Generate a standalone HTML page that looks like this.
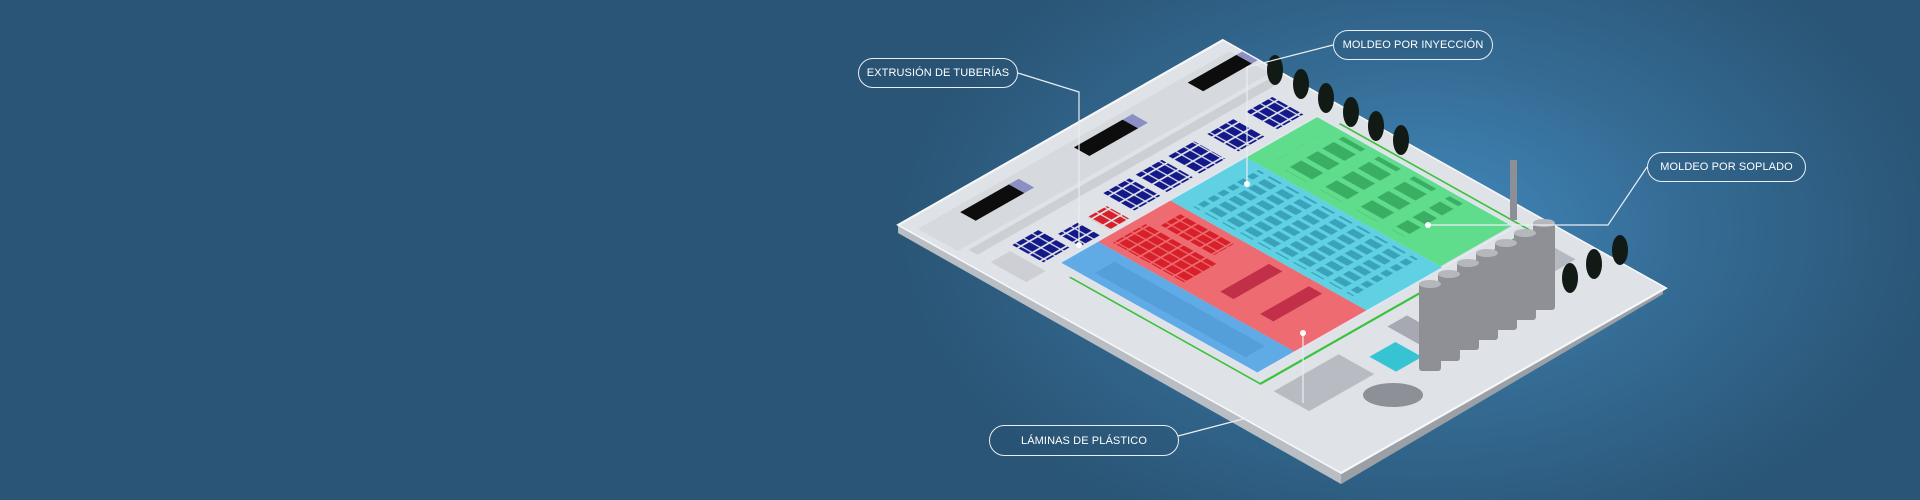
<!DOCTYPE html>
<html><head><meta charset="utf-8"><style>
html,body{margin:0;padding:0;}
body{width:1920px;height:500px;overflow:hidden;position:relative;font-family:"Liberation Sans",sans-serif;background:#2a5576;}
.bg{position:absolute;inset:0;background:radial-gradient(ellipse 520px 330px at 1420px 230px,#4289bd 0%,#356c95 50%,rgba(43,87,119,0) 100%),#2a5576;}
svg{position:absolute;left:0;top:0;}
.pill{position:absolute;border:1.3px solid #e8eef4;border-radius:16px;color:#fff;font-size:11px;display:flex;align-items:center;justify-content:center;box-sizing:border-box;background:rgba(40,80,110,0.25);letter-spacing:0.1px;}
</style></head><body>
<div class="bg"></div>
<svg width="1920" height="500" viewBox="0 0 1920 500">
<defs>
<pattern id="pb" patternUnits="userSpaceOnUse" width="2.6" height="2.6"><rect x="0.2" y="0.2" width="2.2" height="2.2" fill="#14198a"/></pattern>
<pattern id="pr" patternUnits="userSpaceOnUse" width="2.6" height="2.6"><rect x="0.2" y="0.2" width="2.2" height="2.2" fill="#d8202a"/></pattern>
<pattern id="pc" patternUnits="userSpaceOnUse" width="3" height="4"><rect x="0.4" y="0.5" width="2" height="2.8" fill="#3aa3bb"/></pattern>
<pattern id="pg" patternUnits="userSpaceOnUse" width="5" height="8"><rect x="0.6" y="1" width="3.5" height="5" fill="#3aae62"/></pattern>
</defs>
<polygon points="898,225 1341,473 1663,285 1663,294 1341,484 898,233" fill="#b9bec4"/>
<polygon points="1341,473 1663,285 1663,294 1341,484" fill="#9aa0a6"/>
<g transform="matrix(3.25,-1.85,4.43,2.48,898,225)">
 <rect x="0" y="0" width="100" height="100" fill="#dfe2e6"/>
 <rect x="0" y="0" width="100" height="100" fill="none" stroke="#f6f7f8" stroke-width="0.5"/>
 <rect x="2" y="3" width="96" height="9" fill="#d6d9dd"/>
 <rect x="4" y="13" width="92" height="2" fill="#ccd0d4"/>
 <rect x="13" y="4.5" width="15" height="3.5" fill="#0d0d0d"/>
 <rect x="28" y="4.5" width="3" height="3.5" fill="#8b8fc4"/>
 <rect x="48" y="4.5" width="15" height="3.5" fill="#0d0d0d"/>
 <rect x="63" y="4.5" width="3" height="3.5" fill="#8b8fc4"/>
 <rect x="83" y="4.5" width="15" height="3.5" fill="#0d0d0d"/>
 <rect x="98" y="4.5" width="1.8" height="3.5" fill="#8b8fc4"/>
 <rect x="12" y="17" width="8" height="7" fill="url(#pb)"/>
 <rect x="22" y="20" width="6" height="5" fill="url(#pb)"/>
 <rect x="40" y="17" width="8" height="7" fill="url(#pb)"/>
 <rect x="50" y="17" width="8" height="7" fill="url(#pb)"/>
 <rect x="60" y="17" width="8" height="7" fill="url(#pb)"/>
 <rect x="72" y="17" width="8" height="7" fill="url(#pb)"/>
 <rect x="84" y="17" width="8" height="7" fill="url(#pb)"/>
 <rect x="31" y="20" width="6" height="5" fill="url(#pr)"/>
 <rect x="4" y="18" width="6" height="8" fill="#c4c7cc" opacity="0.7"/>
 <rect x="14.5" y="26" width="11.5" height="44.5" fill="#55a6e6" opacity="0.92"/>
 <rect x="26" y="26" width="22.2" height="44.5" fill="#ee6167" opacity="0.92"/>
 <rect x="48.2" y="26" width="23.3" height="44.5" fill="#55cfe2" opacity="0.92"/>
 <rect x="71.5" y="26" width="22" height="44" fill="#55db86" opacity="0.92"/>
 <rect x="14.5" y="26" width="79" height="44.5" fill="none" stroke="#eef" stroke-width="0.3" opacity="0.7"/>
 <rect x="17" y="32" width="6" height="34" fill="#4c97d2" opacity="0.6"/>
 <rect x="28" y="28" width="10" height="16" fill="url(#pr)"/>
 <rect x="40" y="30" width="6" height="12" fill="url(#pr)"/>
 <rect x="31" y="50" width="15" height="3" fill="#c13048"/>
 <rect x="31" y="59" width="15" height="3" fill="#c13048"/>
 <rect x="50" y="30" width="20" height="36" fill="url(#pc)"/>
 <rect x="74" y="30" width="18" height="30" fill="url(#pg)"/>
 <polyline points="12,30 12,73 95,73 95,30" fill="none" stroke="#39c23c" stroke-width="0.5"/>
 <rect x="12" y="76" width="20" height="8" fill="#9ea3aa" opacity="0.6"/>
 <rect x="36" y="80" width="8" height="6" fill="#37c4d2"/>
 <rect x="47" y="76" width="6" height="10" fill="#8d929a" opacity="0.7"/>
 <rect x="80" y="76" width="14" height="8" fill="#a4a8ae" opacity="0.7"/>
</g>
<g fill="#8e9096">
 <rect x="1419" y="283" width="22" height="88" rx="3"/>
 <rect x="1438" y="273" width="22" height="88" rx="3"/>
 <rect x="1457" y="262" width="22" height="88" rx="3"/>
 <rect x="1476" y="252" width="22" height="88" rx="3"/>
 <rect x="1495" y="242" width="22" height="88" rx="3"/>
 <rect x="1514" y="232" width="22" height="88" rx="3"/>
 <rect x="1533" y="222" width="22" height="88" rx="3"/>
</g>
<g fill="#b5b7bc"><ellipse cx="1430" cy="284" rx="11" ry="4"/><ellipse cx="1449" cy="274" rx="11" ry="4"/><ellipse cx="1468" cy="263" rx="11" ry="4"/><ellipse cx="1487" cy="253" rx="11" ry="4"/><ellipse cx="1506" cy="243" rx="11" ry="4"/><ellipse cx="1525" cy="233" rx="11" ry="4"/><ellipse cx="1544" cy="223" rx="11" ry="4"/></g>
<rect x="1510" y="160" width="7" height="60" fill="#8c8f95"/>
<ellipse cx="1393" cy="395" rx="30" ry="12" fill="#8d9096"/>
<g fill="#111a14">
 <ellipse cx="1275" cy="70" rx="8" ry="15"/><ellipse cx="1301" cy="84" rx="8" ry="15"/><ellipse cx="1326" cy="98" rx="8" ry="15"/><ellipse cx="1351" cy="112" rx="8" ry="15"/><ellipse cx="1376" cy="126" rx="8" ry="15"/><ellipse cx="1401" cy="140" rx="8" ry="15"/>
 <ellipse cx="1570" cy="278" rx="8" ry="15"/><ellipse cx="1594" cy="264" rx="8" ry="15"/><ellipse cx="1620" cy="250" rx="8" ry="15"/>
</g>
<g fill="none" stroke="#e8eef4" stroke-width="1.2">
 <polyline points="1018,73 1079,92 1079,245"/>
 <polyline points="1333,45 1247,67 1247,184"/>
 <polyline points="1647,167 1608,225 1428,225"/>
 <polyline points="1178,436 1243,419"/>
 <polyline points="1303,333 1303,403"/>
</g>
<g fill="#fff"><circle cx="1079" cy="245" r="3"/><circle cx="1247" cy="184" r="3"/><circle cx="1428" cy="225" r="3"/><circle cx="1303" cy="333" r="3"/></g>
</svg>
<div class="pill" style="left:858px;top:58px;width:160px;height:30px;">EXTRUSIÓN DE TUBERÍAS</div>
<div class="pill" style="left:1333px;top:30px;width:160px;height:30px;">MOLDEO POR INYECCIÓN</div>
<div class="pill" style="left:1647px;top:152px;width:159px;height:30px;">MOLDEO POR SOPLADO</div>
<div class="pill" style="left:989px;top:425px;width:190px;height:31px;">LÁMINAS DE PLÁSTICO</div>
</body></html>
